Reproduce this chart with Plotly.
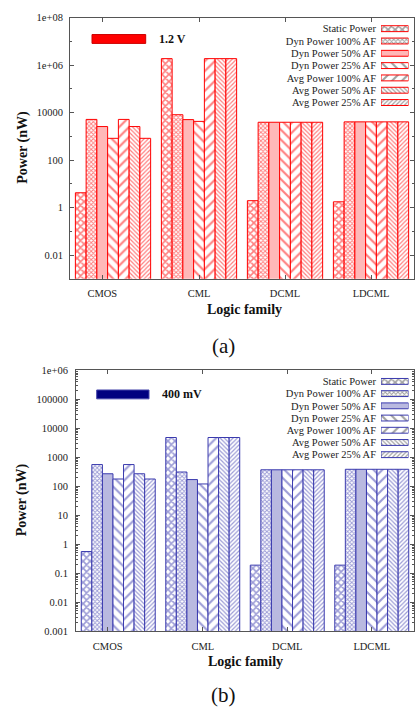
import plotly.graph_objects as go

# ---------------- data ----------------
categories = ["CMOS", "CML", "DCML", "LDCML"]
series = ["Static Power", "Dyn Power 100% AF", "Dyn Power 50% AF", "Dyn Power 25% AF",
          "Avg Power 100% AF", "Avg Power 50% AF", "Avg Power 25% AF"]

# (a) 1.2 V, power in nW
static_a = [4.2, 1.9e6, 1.95, 1.75]
dyn100_a = [5200, 8200, 3950, 4100]
dyn50_a = [2600, 5100, 3950, 4100]
dyn25_a = [830, 4300, 3950, 4100]
avg100_a = [5200, 1.9e6, 3950, 4100]
avg50_a = [2600, 1.9e6, 3950, 4100]
avg25_a = [830, 1.9e6, 3950, 4100]

# (b) 400 mV, power in nW
static_b = [0.56, 4800, 0.19, 0.19]
dyn100_b = [560, 310, 370, 385]
dyn50_b = [270, 170, 370, 385]
dyn25_b = [178, 120, 370, 385]
avg100_b = [560, 4800, 370, 385]
avg50_b = [270, 4800, 370, 385]
avg25_b = [178, 4800, 370, 385]

ytick_a = [1e8, 1e6, 1e4, 100, 1, 0.01]
ytext_a = ["1e+08", "1e+06", "10000", "100", "1", "0.01"]
ytick_b = [1e6, 1e5, 1e4, 1000, 100, 10, 1, 0.1, 0.01, 0.001]
ytext_b = ["1e+06", "100000", "10000", "1000", "100", "10", "1", "0.1", "0.01", "0.001"]

vals_a = [static_a, dyn100_a, dyn50_a, dyn25_a, avg100_a, avg50_a, avg25_a]
vals_b = [static_b, dyn100_b, dyn50_b, dyn25_b, avg100_b, avg50_b, avg25_b]

# ---------------- styles ----------------
W, H = 416, 715
FONT = "Liberation Serif"
AXC = "#555555"
TXT = "#222222"

RED = "#ff0000"
RED_LIGHT = "#ffb8b8"
BLUE = "#3a3aae"
BLUE_LIGHT = "#b9b9e0"

# shape, size, solidity per series (None = solid light fill)
pat = [("x", 5, 0.55), ("x", 3, 0.55), (None, 0, 0), ("\\", 7, 0.3),
       ("/", 7, 0.3), ("\\", 3, 0.4), ("/", 3, 0.4)]


def marker_for(i, col, light):
    shp, sz, sol = pat[i]
    if shp is None:
        return dict(color=light, line=dict(color=col, width=1))
    return dict(color="white", line=dict(color=col, width=1),
                pattern=dict(shape=shp, size=sz, solidity=sol, fgcolor=col,
                             bgcolor="white", fillmode="overlay"))


def marker_arr(col, light):
    shapes, sizes, sols, colors = [], [], [], []
    for shp, sz, sol in pat:
        shapes.append(shp if shp else "")
        sizes.append(sz if sz else 8)
        sols.append(sol if sol else 0.3)
        colors.append(light if shp is None else "white")
    return dict(color=colors, line=dict(color=col, width=1),
                pattern=dict(shape=shapes, size=sizes, solidity=sols, fgcolor=col,
                             fillmode="overlay"))


fig = go.Figure()

for i, name in enumerate(series):
    fig.add_trace(go.Bar(x=list(range(len(categories))), y=vals_a[i], name=name,
                         marker=marker_for(i, RED, RED_LIGHT), xaxis="x", yaxis="y",
                         showlegend=False))
for i, name in enumerate(series):
    fig.add_trace(go.Bar(x=list(range(len(categories))), y=vals_b[i], name=name,
                         marker=marker_for(i, BLUE, BLUE_LIGHT), xaxis="x2", yaxis="y2",
                         showlegend=False))

# legend keys drawn as tiny horizontal bars
fig.add_trace(go.Bar(y=series, x=[1] * len(series), orientation="h", width=0.48,
                     marker=marker_arr(RED, RED_LIGHT), xaxis="x3", yaxis="y3",
                     showlegend=False, hoverinfo="skip"))
fig.add_trace(go.Bar(y=series, x=[1] * len(series), orientation="h", width=0.48,
                     marker=marker_arr(BLUE, BLUE_LIGHT), xaxis="x4", yaxis="y4",
                     showlegend=False, hoverinfo="skip"))


def px_x(a, b):
    return [a / W, b / W]


def px_y(top, bottom):
    return [1 - bottom / H, 1 - top / H]


tickfont = dict(family=FONT, size=10.5, color=TXT)
xcommon = dict(range=[-0.5, 3.5], tickmode="array", tickvals=[-0.125, 1, 2, 3],
               ticktext=categories, ticks="inside", ticklen=4, tickcolor=AXC,
               showline=True, linecolor=AXC, linewidth=1, mirror="ticks",
               showgrid=False, zeroline=False, tickfont=tickfont, ticklabelstandoff=5)
ycommon = dict(type="log", ticks="inside", ticklen=4, tickcolor=AXC, showline=True,
               linecolor=AXC, linewidth=1, mirror="ticks", showgrid=False,
               zeroline=False, tickfont=tickfont, tickmode="array")

minor_a = [10 ** k for k in (-3, -1, 1, 3, 5, 7)]
minor_b = [m * 10 ** k for k in range(-3, 6) for m in range(2, 10)]

legfont = dict(family=FONT, size=10.5, color=TXT)
leg_y = dict(type="category", autorange="reversed", showline=False, ticks="",
             tickmode="array", tickvals=series, ticktext=series,
             showgrid=False, zeroline=False, tickfont=legfont, ticklabelstandoff=4)
leg_x = dict(range=[0, 1], visible=False, fixedrange=True)

fig.update_layout(
    width=W, height=H, autosize=False,
    margin=dict(l=0, r=0, t=0, b=0),
    paper_bgcolor="white", plot_bgcolor="white",
    barmode="group", bargap=0.125, bargroupgap=0,
    font=dict(family=FONT, color=TXT),
    xaxis=dict(domain=px_x(70, 414), anchor="y", **xcommon),
    yaxis=dict(domain=px_y(13, 278), anchor="x", range=[-3, 8], tickvals=ytick_a,
               ticktext=ytext_a, ticklabelstandoff=4,
               minor=dict(tickvals=minor_a, ticks="inside", ticklen=2, tickcolor=AXC),
               **ycommon),
    xaxis2=dict(domain=px_x(76, 414), anchor="y2", **xcommon),
    yaxis2=dict(domain=px_y(371, 636), anchor="x2", range=[-3, 6], tickvals=ytick_b,
                ticktext=ytext_b, ticklabelstandoff=5,
                minor=dict(tickvals=minor_b, ticks="inside", ticklen=2, tickcolor=AXC),
                **ycommon),
    xaxis3=dict(domain=px_x(381, 408.5), anchor="y3", **leg_x),
    yaxis3=dict(domain=px_y(17.8, 105.3), anchor="x3", **leg_y),
    xaxis4=dict(domain=px_x(381, 408.5), anchor="y4", **leg_x),
    yaxis4=dict(domain=px_y(376.1, 462.9), anchor="x4", **leg_y),
)

# voltage keys
fig.add_shape(type="rect", xref="paper", yref="paper",
              x0=92 / W, x1=145.7 / W, y0=1 - 39 / H, y1=1 - 30 / H,
              fillcolor="#ff0000", line=dict(color="#cc0000", width=1))
fig.add_shape(type="rect", xref="paper", yref="paper",
              x0=96.7 / W, x1=149 / W, y0=1 - 400 / H, y1=1 - 391 / H,
              fillcolor="#000080", line=dict(color="#4444aa", width=1))

ann = [
    dict(text="<b>1.2 V</b>", x=157 / W, y=1 - 34.5 / H, xanchor="left", yanchor="middle",
         font=dict(family=FONT, size=12, color="#111")),
    dict(text="<b>400 mV</b>", x=160 / W, y=1 - 395.5 / H, xanchor="left", yanchor="middle",
         font=dict(family=FONT, size=12, color="#111")),
    dict(text="<b>Logic family</b>", x=244 / W, y=1 - 309 / H, xanchor="center",
         yanchor="middle", font=dict(family=FONT, size=14, color="#111")),
    dict(text="<b>Logic family</b>", x=245 / W, y=1 - 667 / H, xanchor="center",
         yanchor="middle", font=dict(family=FONT, size=14, color="#111")),
    dict(text="<b>Power (nW)</b>", x=23 / W, y=1 - 145 / H, xanchor="center",
         yanchor="middle", textangle=-90, font=dict(family=FONT, size=14, color="#111")),
    dict(text="<b>Power (nW)</b>", x=22 / W, y=1 - 503 / H, xanchor="center",
         yanchor="middle", textangle=-90, font=dict(family=FONT, size=14, color="#111")),
    dict(text="(a)", x=223 / W, y=1 - 346 / H, xanchor="center", yanchor="middle",
         font=dict(family=FONT, size=21, color="#111")),
    dict(text="(b)", x=223.5 / W, y=1 - 701 / H, xanchor="center", yanchor="middle",
         font=dict(family=FONT, size=21, color="#111")),
]
for a in ann:
    fig.add_annotation(xref="paper", yref="paper", showarrow=False, **a)

fig.write_html("out.html", config={"displayModeBar": False},
               post_script="document.body.style.margin='0';"
                           "document.documentElement.style.overflow='hidden';")
